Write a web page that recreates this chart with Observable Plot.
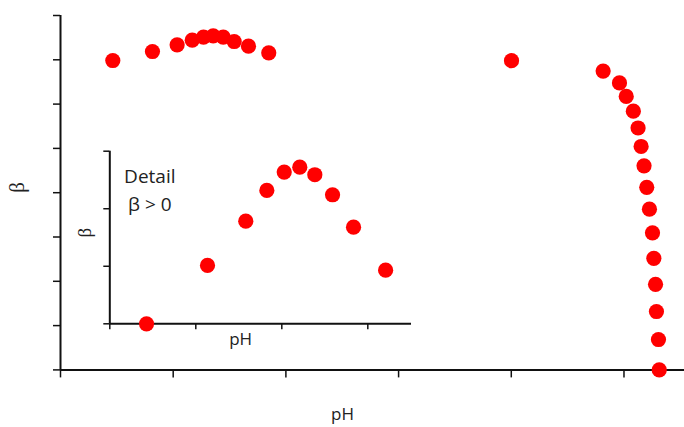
<!DOCTYPE html>
<html>
<head>
<meta charset="utf-8">
<script src="https://cdn.jsdelivr.net/npm/d3@7"></script>
<script src="https://cdn.jsdelivr.net/npm/@observablehq/plot@0.6"></script>
<style>
  html, body { margin: 0; padding: 0; background: #ffffff; }
  #chart { position: relative; width: 684px; height: 427px; overflow: hidden; }
  #chart svg { position: absolute; left: 0; top: 0; }
</style>
</head>
<body>
<div id="chart"></div>
<script>
// Main chart data (pH in axis units, beta in axis units; tick labels hidden in original)
const mainPH   = [0.464, 0.816, 1.035, 1.169, 1.269, 1.355, 1.444, 1.541, 1.668, 1.848,
                  4.002, 4.815, 4.960, 5.020, 5.083, 5.125, 5.152, 5.178, 5.202, 5.226,
                  5.253, 5.265, 5.280, 5.288, 5.306, 5.313];
const mainBeta = [6.984, 7.187, 7.339, 7.442, 7.510, 7.542, 7.510, 7.413, 7.307, 7.158,
                  6.980, 6.745, 6.479, 6.174, 5.840, 5.461, 5.043, 4.607, 4.122, 3.628,
                  3.095, 2.519, 1.932, 1.318, 0.686, 0.0];
const mainXTicks = [0, 1, 2, 3, 4, 5];
const mainYTicks = [0, 1, 2, 3, 4, 5, 6, 7, 8];

// Inset (detail, beta > 0)
const insetPH   = [0.427, 1.136, 1.581, 1.826, 2.028, 2.209, 2.384, 2.590, 2.834, 3.207];
const insetBeta = [0.0, 1.014, 1.784, 2.318, 2.637, 2.723, 2.591, 2.243, 1.680, 0.932];
const insetXTicks = [0, 1, 2, 3];
const insetYTicks = [0, 1, 2, 3];

const labelX = "pH";
const labelY = "β";
const insetNote = ["Detail", "β > 0"];

const mainData = mainPH.map((x, i) => ({pH: x, beta: mainBeta[i]}));
const insetData = insetPH.map((x, i) => ({pH: x, beta: insetBeta[i]}));

const sans = "'Open Sans', 'Noto Sans', sans-serif";
const serif = "'Liberation Serif', 'DejaVu Serif', serif";
const red = "#ff0000";
const ink = "#111111";

const main = Plot.plot({
  width: 684,
  height: 427,
  marginLeft: 60,
  marginRight: 0,
  marginTop: 15,
  marginBottom: 57.6,
  style: {background: "transparent", fontFamily: sans},
  x: {domain: [0, 5.537]},
  y: {domain: [0, 8]},
  marks: [
    Plot.axisX({ticks: mainXTicks, tickSize: 8, tickFormat: () => "", label: null, stroke: ink, strokeWidth: 1.5}),
    Plot.axisY({ticks: mainYTicks, tickSize: 7, tickFormat: () => "", label: null, stroke: ink, strokeWidth: 1.5}),
    Plot.ruleY([0], {stroke: ink, strokeWidth: 2}),
    Plot.ruleX([0], {stroke: ink, strokeWidth: 2}),
    Plot.dot(mainData, {x: "pH", y: "beta", r: 7.6, fill: red, stroke: "none"}),
    Plot.text([labelX], {frameAnchor: "bottom", dx: -30, dy: 50, fontSize: 17, fontFamily: sans, fill: "#222"}),
    Plot.text([labelY], {frameAnchor: "left", dx: -43, rotate: -90, fontSize: 21, fontFamily: serif, fill: "#222"})
  ]
});

const inset = Plot.plot({
  width: 684,
  height: 427,
  marginLeft: 109.3,
  marginRight: 273,
  marginTop: 150.7,
  marginBottom: 103.7,
  style: {background: "transparent", fontFamily: sans},
  x: {domain: [0, 3.508]},
  y: {domain: [0, 3]},
  marks: [
    Plot.axisX({ticks: insetXTicks, tickSize: 6, tickFormat: () => "", label: null, stroke: ink, strokeWidth: 1.5}),
    Plot.axisY({ticks: insetYTicks, tickSize: 6, tickFormat: () => "", label: null, stroke: ink, strokeWidth: 1.5}),
    Plot.ruleY([0], {stroke: ink, strokeWidth: 2}),
    Plot.ruleX([0], {stroke: ink, strokeWidth: 2}),
    Plot.dot(insetData, {x: "pH", y: "beta", r: 7.6, fill: red, stroke: "none"}),
    Plot.text([labelX], {frameAnchor: "bottom", dx: -20, dy: 21, fontSize: 17, fontFamily: sans, fill: "#222"}),
    Plot.text([labelY], {frameAnchor: "left", dx: -25, rotate: -90, fontSize: 19, fontFamily: serif, fill: "#222"}),
    Plot.text([insetNote[0]], {frameAnchor: "top-left", dx: 40, dy: 18, textAnchor: "middle", fontSize: 19, fontFamily: sans, fill: "#222"}),
    Plot.text([insetNote[1]], {frameAnchor: "top-left", dx: 40, dy: 46, textAnchor: "middle", fontSize: 19, fontFamily: sans, fill: "#222"})
  ]
});

const chart = document.getElementById("chart");
chart.appendChild(main);
chart.appendChild(inset);
</script>
</body>
</html>
